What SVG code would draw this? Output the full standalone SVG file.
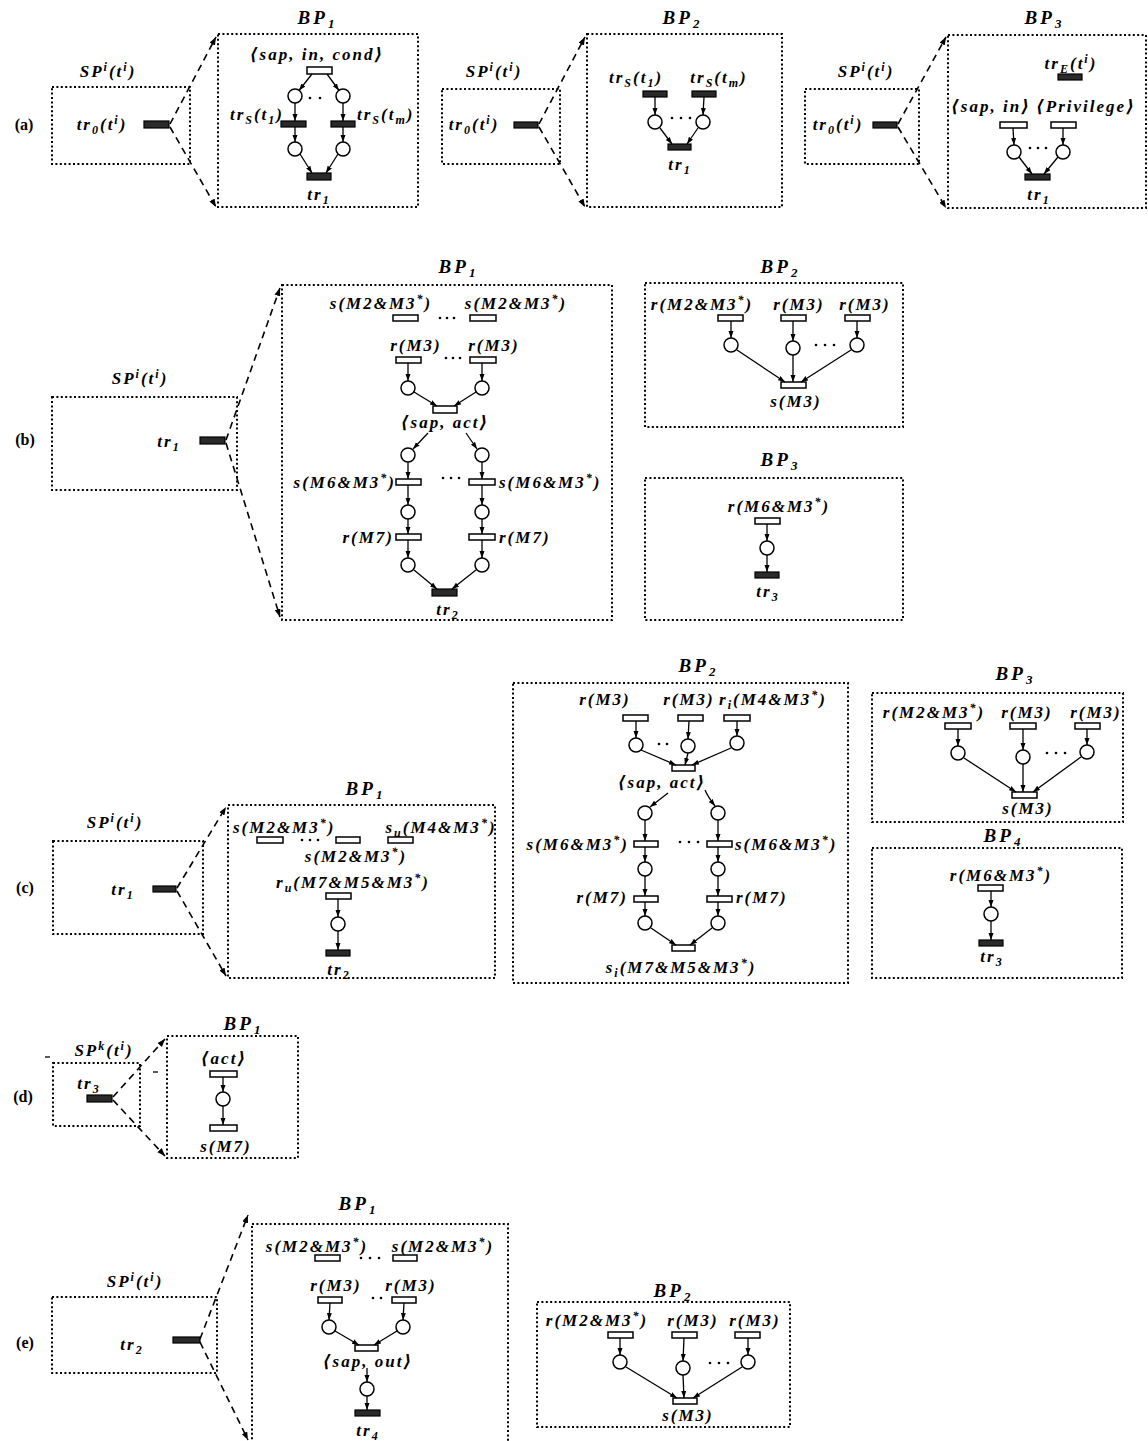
<svg xmlns="http://www.w3.org/2000/svg" width="1148" height="1441" viewBox="0 0 1148 1441">
<defs>
<style>
.box{fill:none;stroke:#000;stroke-width:2;stroke-dasharray:2 2.4}
.t{fill:#fff;stroke:#000;stroke-width:1.5}
.f{fill:#2a2a2a;stroke:#000;stroke-width:1.2}
.p{fill:#fff;stroke:#000;stroke-width:1.5}
.arc{stroke:#000;stroke-width:1.3;fill:none;marker-end:url(#ah)}
.dash{stroke:#000;stroke-width:1.6;stroke-dasharray:7 5;fill:none;marker-end:url(#dh)}
.dot{fill:#000}
text{font-family:"Liberation Serif","DejaVu Serif",serif;font-style:italic;font-weight:bold;font-size:17px;letter-spacing:2px;fill:#000}
.m{text-anchor:middle}
.e{text-anchor:end}
.bp{font-size:19px;letter-spacing:3px}
.bs{font-size:13px;baseline-shift:-4px;letter-spacing:0}
.lab{font-style:normal;letter-spacing:0;font-size:16px}
.sp{font-size:12px;baseline-shift:6px}
.sb{font-size:12px;baseline-shift:-4px}
</style>
<marker id="ah" markerUnits="userSpaceOnUse" markerWidth="8" markerHeight="6" refX="7" refY="2.5" orient="auto"><path d="M0,0 L7,2.5 L0,5 z" fill="#000"/></marker>
<marker id="dh" markerUnits="userSpaceOnUse" markerWidth="9" markerHeight="7" refX="8" refY="3" orient="auto"><path d="M0,0 L8,3 L0,6 z" fill="#000"/></marker>
</defs>
<rect width="1148" height="1441" fill="#fff"/>

<!-- Row labels -->
<g id="row-labels">
<text class="lab m" x="24" y="130">(a)</text>
<text class="lab m" x="25" y="445">(b)</text>
<text class="lab m" x="25" y="893">(c)</text>
<text class="lab m" x="23" y="1102">(d)</text>
<text class="lab m" x="25" y="1348">(e)</text>
</g>

<!-- ================= (a) ================= -->
<g id="a1-sp"><rect class="box" x="52" y="87" width="138" height="77"/><text class="m" x="108" y="77">SP<tspan class="sp">i</tspan>(t<tspan class="sp">i</tspan>)</text><text class="m" x="102" y="130">tr<tspan class="sb">0</tspan>(t<tspan class="sp">i</tspan>)</text></g>
<g id="a1-tr0"><rect class="f" x="144" y="121" width="25" height="7"/></g>
<g id="a1-bp1"><rect class="box" x="218" y="34" width="200" height="173"/><text class="bp m" x="316" y="24">BP<tspan class="bs">1</tspan></text></g>
<g id="a1-cond"><rect class="t" x="307" y="67" width="25" height="7"/><text class="m" x="317" y="60">⟨sap, in, cond⟩</text></g>
<g id="a1-p1"><circle class="p" cx="295" cy="96" r="7"/></g>
<g id="a1-p2"><circle class="p" cx="343" cy="96" r="7"/></g>
<g id="a1-trs1"><rect class="f" x="281" y="121" width="25" height="6"/><text class="e" x="284" y="120">tr<tspan class="sb">S</tspan>(t<tspan class="sb">1</tspan>)</text></g>
<g id="a1-trsm"><rect class="f" x="331" y="121" width="24" height="6"/><text x="357" y="120">tr<tspan class="sb">S</tspan>(t<tspan class="sb">m</tspan>)</text></g>
<g id="a1-p3"><circle class="p" cx="295" cy="149" r="7"/></g>
<g id="a1-p4"><circle class="p" cx="343" cy="149" r="7"/></g>
<g id="a1-tr1"><rect class="f" x="307" y="173" width="24" height="7"/><text class="m" x="319" y="200">tr<tspan class="sb">1</tspan></text></g>

<g id="a2-sp"><rect class="box" x="442" y="89" width="118" height="75"/><text class="m" x="494" y="77">SP<tspan class="sp">i</tspan>(t<tspan class="sp">i</tspan>)</text><text class="m" x="474" y="130">tr<tspan class="sb">0</tspan>(t<tspan class="sp">i</tspan>)</text></g>
<g id="a2-tr0"><rect class="f" x="514" y="122" width="24" height="6"/></g>
<g id="a2-bp2"><rect class="box" x="587" y="34" width="195" height="173"/><text class="bp m" x="681" y="24">BP<tspan class="bs">2</tspan></text></g>
<g id="a2-trs1"><rect class="f" x="643" y="91" width="24" height="6"/><text class="m" x="636" y="83">tr<tspan class="sb">S</tspan>(t<tspan class="sb">1</tspan>)</text></g>
<g id="a2-trsm"><rect class="f" x="692" y="91" width="24" height="6"/><text class="m" x="719" y="83">tr<tspan class="sb">S</tspan>(t<tspan class="sb">m</tspan>)</text></g>
<g id="a2-p1"><circle class="p" cx="655" cy="122" r="7"/></g>
<g id="a2-p2"><circle class="p" cx="703" cy="122" r="7"/></g>
<g id="a2-tr1"><rect class="f" x="668" y="144" width="23" height="6"/><text class="m" x="680" y="170">tr<tspan class="sb">1</tspan></text></g>

<g id="a3-sp"><rect class="box" x="805" y="89" width="114" height="75"/><text class="m" x="866" y="77">SP<tspan class="sp">i</tspan>(t<tspan class="sp">i</tspan>)</text><text class="m" x="838" y="130">tr<tspan class="sb">0</tspan>(t<tspan class="sp">i</tspan>)</text></g>
<g id="a3-tr0"><rect class="f" x="873" y="122" width="24" height="6"/></g>
<g id="a3-bp3"><rect class="box" x="948" y="35" width="198" height="173"/><text class="bp m" x="1043" y="24">BP<tspan class="bs">3</tspan></text></g>
<g id="a3-tre"><rect class="f" x="1058" y="74" width="24" height="6"/><text class="m" x="1071" y="69">tr<tspan class="sb">E</tspan>(t<tspan class="sp">i</tspan>)</text></g>
<g id="a3-sapin"><rect class="t" x="1000" y="122" width="27" height="6"/><text class="m" x="991" y="112">⟨sap, in⟩</text></g>
<g id="a3-priv"><rect class="t" x="1051" y="122" width="25" height="6"/><text class="m" x="1086" y="112">⟨Privilege⟩</text></g>
<g id="a3-p1"><circle class="p" cx="1014" cy="152" r="7"/></g>
<g id="a3-p2"><circle class="p" cx="1063" cy="152" r="7"/></g>
<g id="a3-tr1"><rect class="f" x="1025" y="174" width="25" height="6"/><text class="m" x="1039" y="200">tr<tspan class="sb">1</tspan></text></g>

<!-- ================= (b) ================= -->
<g id="b-sp"><rect class="box" x="52" y="397" width="185" height="93"/><text class="m" x="140" y="384">SP<tspan class="sp">i</tspan>(t<tspan class="sp">i</tspan>)</text><text class="m" x="169" y="447">tr<tspan class="sb">1</tspan></text></g>
<g id="b-tr1"><rect class="f" x="200" y="437" width="25" height="7"/></g>
<g id="b1-bp1"><rect class="box" x="282" y="285" width="330" height="335"/><text class="bp m" x="457" y="273">BP<tspan class="bs">1</tspan></text></g>
<g id="b1-s1"><rect class="t" x="393" y="315" width="25" height="6"/><text class="m" x="381" y="309">s(M2&amp;M3<tspan class="sp">*</tspan>)</text></g>
<g id="b1-s2"><rect class="t" x="470" y="315" width="26" height="6"/><text class="m" x="516" y="309">s(M2&amp;M3<tspan class="sp">*</tspan>)</text></g>
<g id="b1-r1"><rect class="t" x="396" y="357" width="25" height="6"/><text class="m" x="416" y="351">r(M3)</text></g>
<g id="b1-r2"><rect class="t" x="470" y="357" width="26" height="6"/><text class="m" x="494" y="351">r(M3)</text></g>
<g id="b1-p1"><circle class="p" cx="408" cy="388" r="7"/></g>
<g id="b1-p2"><circle class="p" cx="482" cy="388" r="7"/></g>
<g id="b1-sapact"><rect class="t" x="433" y="406" width="24" height="7"/><text class="m" x="445" y="428">⟨sap, act⟩</text></g>
<g id="b1-p3"><circle class="p" cx="408" cy="455" r="7"/></g>
<g id="b1-p4"><circle class="p" cx="482" cy="455" r="7"/></g>
<g id="b1-s61"><rect class="t" x="396" y="479" width="25" height="6"/><text class="e" x="396" y="488">s(M6&amp;M3<tspan class="sp">*</tspan>)</text></g>
<g id="b1-s62"><rect class="t" x="469" y="479" width="26" height="6"/><text x="499" y="488">s(M6&amp;M3<tspan class="sp">*</tspan>)</text></g>
<g id="b1-p5"><circle class="p" cx="408" cy="512" r="7"/></g>
<g id="b1-p6"><circle class="p" cx="482" cy="512" r="7"/></g>
<g id="b1-r71"><rect class="t" x="396" y="534" width="25" height="6"/><text class="e" x="394" y="543">r(M7)</text></g>
<g id="b1-r72"><rect class="t" x="469" y="534" width="26" height="6"/><text x="499" y="543">r(M7)</text></g>
<g id="b1-p7"><circle class="p" cx="408" cy="565" r="7"/></g>
<g id="b1-p8"><circle class="p" cx="482" cy="565" r="7"/></g>
<g id="b1-tr2"><rect class="f" x="432" y="589" width="25" height="7"/><text class="m" x="448" y="615">tr<tspan class="sb">2</tspan></text></g>

<g id="b2-bp2"><rect class="box" x="645" y="283" width="258" height="144"/><text class="bp m" x="779" y="273">BP<tspan class="bs">2</tspan></text></g>
<g id="b2-r1"><rect class="t" x="718" y="315" width="25" height="6"/><text class="m" x="702" y="310">r(M2&amp;M3<tspan class="sp">*</tspan>)</text></g>
<g id="b2-r2"><rect class="t" x="781" y="315" width="25" height="6"/><text class="m" x="799" y="310">r(M3)</text></g>
<g id="b2-r3"><rect class="t" x="845" y="315" width="25" height="6"/><text class="m" x="865" y="310">r(M3)</text></g>
<g id="b2-p1"><circle class="p" cx="731" cy="345" r="7"/></g>
<g id="b2-p2"><circle class="p" cx="793" cy="348" r="7"/></g>
<g id="b2-p3"><circle class="p" cx="857" cy="345" r="7"/></g>
<g id="b2-s"><rect class="t" x="781" y="382" width="25" height="6"/><text class="m" x="796" y="407">s(M3)</text></g>

<g id="b3-bp3"><rect class="box" x="645" y="478" width="258" height="142"/><text class="bp m" x="779" y="466">BP<tspan class="bs">3</tspan></text></g>
<g id="b3-r"><rect class="t" x="755" y="518" width="25" height="6"/><text class="m" x="779" y="512">r(M6&amp;M3<tspan class="sp">*</tspan>)</text></g>
<g id="b3-p1"><circle class="p" cx="767" cy="548" r="7"/></g>
<g id="b3-tr3"><rect class="f" x="755" y="572" width="24" height="6"/><text class="m" x="768" y="597">tr<tspan class="sb">3</tspan></text></g>

<!-- ================= (c) ================= -->
<g id="c-sp"><rect class="box" x="53" y="841" width="150" height="93"/><text class="m" x="115" y="828">SP<tspan class="sp">i</tspan>(t<tspan class="sp">i</tspan>)</text><text class="m" x="123" y="895">tr<tspan class="sb">1</tspan></text></g>
<g id="c-tr1"><rect class="f" x="153" y="886" width="23" height="6"/></g>
<g id="c1-bp1"><rect class="box" x="228" y="805" width="267" height="173"/><text class="bp m" x="364" y="795">BP<tspan class="bs">1</tspan></text></g>
<g id="c1-s1"><rect class="t" x="257" y="837" width="26" height="6"/><text x="233" y="833">s(M2&amp;M3<tspan class="sp">*</tspan>)</text></g>
<g id="c1-s2"><rect class="t" x="336" y="837" width="24" height="6"/><text class="m" x="356" y="862">s(M2&amp;M3<tspan class="sp">*</tspan>)</text></g>
<g id="c1-su"><rect class="t" x="388" y="837" width="25" height="6"/><text class="m" x="441" y="833">s<tspan class="sb">u</tspan>(M4&amp;M3<tspan class="sp">*</tspan>)</text></g>
<g id="c1-ru"><rect class="t" x="326" y="893" width="25" height="6"/><text class="m" x="353" y="888">r<tspan class="sb">u</tspan>(M7&amp;M5&amp;M3<tspan class="sp">*</tspan>)</text></g>
<g id="c1-p1"><circle class="p" cx="338" cy="924" r="7"/></g>
<g id="c1-tr2"><rect class="f" x="326" y="950" width="24" height="6"/><text class="m" x="339" y="975">tr<tspan class="sb">2</tspan></text></g>

<g id="c2-bp2"><rect class="box" x="513" y="683" width="335" height="300"/><text class="bp m" x="697" y="672">BP<tspan class="bs">2</tspan></text></g>
<g id="c2-r1"><rect class="t" x="623" y="715" width="25" height="6"/><text class="m" x="605" y="705">r(M3)</text></g>
<g id="c2-r2"><rect class="t" x="678" y="715" width="25" height="6"/><text class="m" x="689" y="705">r(M3)</text></g>
<g id="c2-ri"><rect class="t" x="724" y="715" width="26" height="6"/><text class="m" x="773" y="705">r<tspan class="sb">i</tspan>(M4&amp;M3<tspan class="sp">*</tspan>)</text></g>
<g id="c2-p1"><circle class="p" cx="636" cy="745" r="7"/></g>
<g id="c2-p2"><circle class="p" cx="688" cy="746" r="7"/></g>
<g id="c2-p3"><circle class="p" cx="737" cy="743" r="7"/></g>
<g id="c2-sapact"><rect class="t" x="672" y="765" width="23" height="6"/><text class="m" x="662" y="788">⟨sap, act⟩</text></g>
<g id="c2-p4"><circle class="p" cx="645" cy="813" r="7"/></g>
<g id="c2-p5"><circle class="p" cx="718" cy="813" r="7"/></g>
<g id="c2-s61"><rect class="t" x="634" y="841" width="24" height="6"/><text class="e" x="629" y="850">s(M6&amp;M3<tspan class="sp">*</tspan>)</text></g>
<g id="c2-s62"><rect class="t" x="707" y="841" width="25" height="6"/><text x="735" y="850">s(M6&amp;M3<tspan class="sp">*</tspan>)</text></g>
<g id="c2-p6"><circle class="p" cx="645" cy="869" r="7"/></g>
<g id="c2-p7"><circle class="p" cx="718" cy="869" r="7"/></g>
<g id="c2-r71"><rect class="t" x="634" y="896" width="24" height="6"/><text class="e" x="628" y="903">r(M7)</text></g>
<g id="c2-r72"><rect class="t" x="707" y="896" width="25" height="6"/><text x="736" y="903">r(M7)</text></g>
<g id="c2-p8"><circle class="p" cx="645" cy="923" r="7"/></g>
<g id="c2-p9"><circle class="p" cx="718" cy="923" r="7"/></g>
<g id="c2-si"><rect class="t" x="672" y="945" width="23" height="6"/><text class="m" x="681" y="973">s<tspan class="sb">i</tspan>(M7&amp;M5&amp;M3<tspan class="sp">*</tspan>)</text></g>

<g id="c3-bp3"><rect class="box" x="872" y="693" width="251" height="129"/><text class="bp m" x="1014" y="680">BP<tspan class="bs">3</tspan></text></g>
<g id="c3-r1"><rect class="t" x="945" y="723" width="26" height="6"/><text class="m" x="934" y="718">r(M2&amp;M3<tspan class="sp">*</tspan>)</text></g>
<g id="c3-r2"><rect class="t" x="1010" y="723" width="26" height="6"/><text class="m" x="1027" y="718">r(M3)</text></g>
<g id="c3-r3"><rect class="t" x="1075" y="723" width="25" height="6"/><text class="m" x="1096" y="718">r(M3)</text></g>
<g id="c3-p1"><circle class="p" cx="958" cy="753" r="7"/></g>
<g id="c3-p2"><circle class="p" cx="1023" cy="757" r="7"/></g>
<g id="c3-p3"><circle class="p" cx="1087" cy="752" r="7"/></g>
<g id="c3-s"><rect class="t" x="1012" y="792" width="25" height="6"/><text class="m" x="1028" y="814">s(M3)</text></g>

<g id="c4-bp4"><rect class="box" x="872" y="848" width="250" height="130"/><text class="bp m" x="1002" y="842">BP<tspan class="bs">4</tspan></text></g>
<g id="c4-r"><rect class="t" x="978" y="885" width="25" height="6"/><text class="m" x="1001" y="881">r(M6&amp;M3<tspan class="sp">*</tspan>)</text></g>
<g id="c4-p1"><circle class="p" cx="991" cy="914" r="7"/></g>
<g id="c4-tr3"><rect class="f" x="979" y="940" width="24" height="6"/><text class="m" x="992" y="962">tr<tspan class="sb">3</tspan></text></g>

<!-- ================= (d) ================= -->
<g id="d-sp"><rect class="box" x="53" y="1063" width="87" height="63"/><text class="m" x="104" y="1056">SP<tspan class="sp">k</tspan>(t<tspan class="sp">i</tspan>)</text><text class="m" x="89" y="1089">tr<tspan class="sb">3</tspan></text></g>
<g id="d-tr3"><rect class="f" x="87" y="1095" width="25" height="7"/></g>
<g id="d-bp1"><rect class="box" x="167" y="1036" width="131" height="122"/><text class="bp m" x="242" y="1030">BP<tspan class="bs">1</tspan></text></g>
<g id="d-act"><rect class="t" x="210" y="1071" width="27" height="6"/><text class="m" x="224" y="1064">⟨act⟩</text></g>
<g id="d-p1"><circle class="p" cx="223" cy="1099" r="7"/></g>
<g id="d-s7"><rect class="t" x="210" y="1125" width="27" height="6"/><text class="m" x="226" y="1152">s(M7)</text></g>
<g id="d-marks"><line x1="45" y1="1057" x2="50" y2="1057" stroke="#000" stroke-width="1.3"/><line x1="153" y1="1072" x2="158" y2="1072" stroke="#000" stroke-width="1.3"/></g>

<!-- ================= (e) ================= -->
<g id="e-sp"><rect class="box" x="52" y="1297" width="165" height="76"/><text class="m" x="135" y="1287">SP<tspan class="sp">i</tspan>(t<tspan class="sp">i</tspan>)</text><text class="m" x="132" y="1350">tr<tspan class="sb">2</tspan></text></g>
<g id="e-tr2"><rect class="f" x="173" y="1337" width="27" height="6"/></g>
<g id="e1-bp1"><rect class="box" x="252" y="1224" width="256" height="230"/><text class="bp m" x="357" y="1210">BP<tspan class="bs">1</tspan></text></g>
<g id="e1-s1"><rect class="t" x="315" y="1255" width="25" height="6"/><text class="m" x="317" y="1252">s(M2&amp;M3<tspan class="sp">*</tspan>)</text></g>
<g id="e1-s2"><rect class="t" x="393" y="1255" width="24" height="6"/><text class="m" x="443" y="1252">s(M2&amp;M3<tspan class="sp">*</tspan>)</text></g>
<g id="e1-r1"><rect class="t" x="318" y="1297" width="24" height="6"/><text class="m" x="336" y="1291">r(M3)</text></g>
<g id="e1-r2"><rect class="t" x="392" y="1297" width="24" height="6"/><text class="m" x="411" y="1291">r(M3)</text></g>
<g id="e1-p1"><circle class="p" cx="329" cy="1327" r="7"/></g>
<g id="e1-p2"><circle class="p" cx="403" cy="1327" r="7"/></g>
<g id="e1-sapout"><rect class="t" x="355" y="1345" width="23" height="6"/><text class="m" x="368" y="1367">⟨sap, out⟩</text></g>
<g id="e1-p3"><circle class="p" cx="367" cy="1389" r="7"/></g>
<g id="e1-tr4"><rect class="f" x="355" y="1410" width="25" height="6"/><text class="m" x="368" y="1436">tr<tspan class="sb">4</tspan></text></g>

<g id="e2-bp2"><rect class="box" x="537" y="1302" width="253" height="125"/><text class="bp m" x="672" y="1297">BP<tspan class="bs">2</tspan></text></g>
<g id="e2-r1"><rect class="t" x="608" y="1332" width="25" height="6"/><text class="m" x="597" y="1326">r(M2&amp;M3<tspan class="sp">*</tspan>)</text></g>
<g id="e2-r2"><rect class="t" x="672" y="1332" width="25" height="6"/><text class="m" x="693" y="1326">r(M3)</text></g>
<g id="e2-r3"><rect class="t" x="735" y="1332" width="25" height="6"/><text class="m" x="755" y="1326">r(M3)</text></g>
<g id="e2-p1"><circle class="p" cx="620" cy="1362" r="7"/></g>
<g id="e2-p2"><circle class="p" cx="683" cy="1368" r="7"/></g>
<g id="e2-p3"><circle class="p" cx="748" cy="1362" r="7"/></g>
<g id="e2-s"><rect class="t" x="673" y="1398" width="24" height="6"/><text class="m" x="688" y="1421">s(M3)</text></g>

<!-- ellipsis dots -->
<g id="ellipses" class="dot">
<circle cx="310" cy="98" r="1.3"/><circle cx="320" cy="98" r="1.3"/>
<circle cx="672" cy="118" r="1.3"/><circle cx="681" cy="118" r="1.3"/><circle cx="690" cy="118" r="1.3"/>
<circle cx="1030" cy="148" r="1.3"/><circle cx="1038" cy="148" r="1.3"/><circle cx="1046" cy="148" r="1.3"/>
<circle cx="440" cy="318" r="1.3"/><circle cx="447" cy="318" r="1.3"/><circle cx="454" cy="318" r="1.3"/>
<circle cx="446" cy="358" r="1.3"/><circle cx="453" cy="358" r="1.3"/><circle cx="460" cy="358" r="1.3"/>
<circle cx="443" cy="478" r="1.3"/><circle cx="451" cy="478" r="1.3"/><circle cx="459" cy="478" r="1.3"/>
<circle cx="816" cy="345" r="1.3"/><circle cx="825" cy="345" r="1.3"/><circle cx="834" cy="345" r="1.3"/>
<circle cx="302" cy="840" r="1.3"/><circle cx="310" cy="840" r="1.3"/><circle cx="318" cy="840" r="1.3"/>
<circle cx="659" cy="744" r="1.3"/><circle cx="667" cy="744" r="1.3"/>
<circle cx="680" cy="842" r="1.3"/><circle cx="689" cy="842" r="1.3"/><circle cx="698" cy="842" r="1.3"/>
<circle cx="1047" cy="753" r="1.3"/><circle cx="1056" cy="753" r="1.3"/><circle cx="1065" cy="753" r="1.3"/>
<circle cx="361" cy="1258" r="1.3"/><circle cx="370" cy="1258" r="1.3"/><circle cx="379" cy="1258" r="1.3"/>
<circle cx="373" cy="1298" r="1.3"/><circle cx="381" cy="1298" r="1.3"/>
<circle cx="710" cy="1363" r="1.3"/><circle cx="719" cy="1363" r="1.3"/><circle cx="728" cy="1363" r="1.3"/>
</g>

<!-- connectors -->
<g id="connectors">
<path class="dash" d="M170,124 L216,37"/><path class="dash" d="M170,127 L216,207"/>
<path class="arc" d="M312,74 L299,90.5"/><path class="arc" d="M327,74 L339,90.5"/>
<path class="arc" d="M295,103 L295,121"/><path class="arc" d="M343,103 L343,121"/>
<path class="arc" d="M295,127 L295,142"/><path class="arc" d="M343,127 L343,142"/>
<path class="arc" d="M300,154 L312,173"/><path class="arc" d="M338,154 L326,173"/>

<path class="dash" d="M539,124 L585,37"/><path class="dash" d="M539,127 L585,207"/>
<path class="arc" d="M655,97 L655,115"/><path class="arc" d="M704,97 L703,115"/>
<path class="arc" d="M660,128 L672,144"/><path class="arc" d="M698,128 L687,144"/>

<path class="dash" d="M898,124 L946,37"/><path class="dash" d="M898,127 L946,208"/>
<path class="arc" d="M1013,128 L1014,145"/><path class="arc" d="M1063,128 L1063,145"/>
<path class="arc" d="M1019,157 L1032,174"/><path class="arc" d="M1058,157 L1044,174"/>

<path class="dash" d="M226,440 L280,288"/><path class="dash" d="M226,443 L280,617"/>
<path class="arc" d="M408,363 L408,381"/><path class="arc" d="M482,363 L482,381"/>
<path class="arc" d="M414,392 L437,406"/><path class="arc" d="M476,392 L454,406"/>
<path class="arc" d="M428,433 L413,449"/><path class="arc" d="M466,433 L477,449"/>
<path class="arc" d="M408,462 L408,479"/><path class="arc" d="M482,462 L482,479"/>
<path class="arc" d="M408,485 L408,505"/><path class="arc" d="M482,485 L482,505"/>
<path class="arc" d="M408,519 L408,534"/><path class="arc" d="M482,519 L482,534"/>
<path class="arc" d="M408,540 L408,558"/><path class="arc" d="M482,540 L482,558"/>
<path class="arc" d="M414,570 L437,589"/><path class="arc" d="M476,570 L452,589"/>

<path class="arc" d="M731,321 L731,338"/><path class="arc" d="M793,321 L793,341"/><path class="arc" d="M857,321 L857,338"/>
<path class="arc" d="M737,350 L785,382"/><path class="arc" d="M793,355 L793,382"/><path class="arc" d="M851,350 L801,382"/>
<path class="arc" d="M767,524 L767,541"/><path class="arc" d="M767,555 L767,572"/>

<path class="dash" d="M177,888 L226,807"/><path class="dash" d="M177,891 L226,976"/>
<path class="arc" d="M338,899 L338,917"/><path class="arc" d="M338,931 L338,950"/>
<path class="arc" d="M636,721 L636,738"/><path class="arc" d="M689,721 L688,739"/><path class="arc" d="M737,721 L737,736"/>
<path class="arc" d="M641,750 L676,765"/><path class="arc" d="M688,753 L685,765"/><path class="arc" d="M731,748 L692,765"/>
<path class="arc" d="M668,793 L650,807"/><path class="arc" d="M705,790 Q708,797 715,806"/>
<path class="arc" d="M645,820 L645,841"/><path class="arc" d="M718,820 L718,841"/>
<path class="arc" d="M645,847 L645,862"/><path class="arc" d="M718,847 L718,862"/>
<path class="arc" d="M645,876 L645,896"/><path class="arc" d="M718,876 L718,896"/>
<path class="arc" d="M645,902 L645,916"/><path class="arc" d="M718,902 L718,916"/>
<path class="arc" d="M651,928 L676,945"/><path class="arc" d="M712,928 L690,945"/>
<path class="arc" d="M958,729 L958,746"/><path class="arc" d="M1023,729 L1023,750"/><path class="arc" d="M1087,729 L1087,745"/>
<path class="arc" d="M964,758 L1016,792"/><path class="arc" d="M1023,764 L1023,792"/><path class="arc" d="M1081,757 L1033,792"/>
<path class="arc" d="M991,891 L991,907"/><path class="arc" d="M991,921 L991,940"/>

<path class="dash" d="M113,1097 L165,1039"/><path class="dash" d="M113,1100 L165,1156"/>
<path class="arc" d="M223,1077 L223,1092"/><path class="arc" d="M223,1106 L223,1125"/>

<path class="dash" d="M200,1339 L248,1215"/><path class="dash" d="M200,1342 L248,1440"/>
<path class="arc" d="M330,1303 L329,1320"/><path class="arc" d="M404,1303 L403,1320"/>
<path class="arc" d="M335,1331 L359,1345"/><path class="arc" d="M397,1331 L374,1345"/>
<path class="arc" d="M367,1368 L367,1382"/><path class="arc" d="M367,1396 L367,1410"/>
<path class="arc" d="M620,1338 L620,1355"/><path class="arc" d="M684,1338 L683,1361"/><path class="arc" d="M748,1338 L748,1355"/>
<path class="arc" d="M626,1367 L677,1398"/><path class="arc" d="M683,1375 L684,1398"/><path class="arc" d="M742,1367 L693,1398"/>
</g>
</svg>
